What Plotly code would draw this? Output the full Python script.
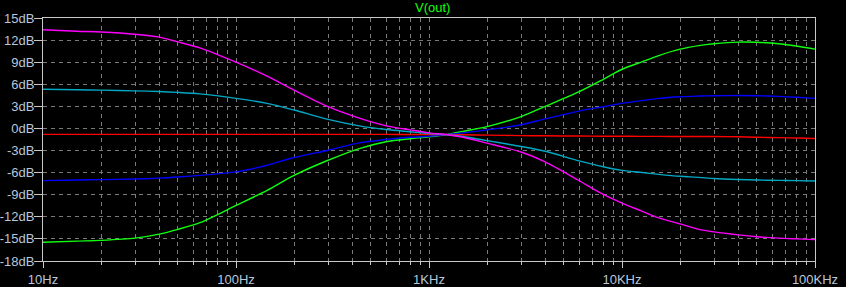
import plotly.graph_objects as go

freq = [10, 15, 20, 30, 40, 50, 65, 100, 145, 200, 300, 435, 600, 800, 1000, 1240,
        1500, 2000, 3000, 4000, 6000, 8000, 10000, 12400, 15500, 20000, 25000, 30000,
        40000, 50000, 65000, 80000, 100000]

magenta_db = [13.4, 13.2, 13.1, 12.8, 12.4, 11.75, 10.95, 9.0, 7.1, 5.2, 2.95, 1.4, 0.35, -0.2,
              -0.6, -0.85, -1.2, -2.0, -3.2, -4.55, -7.1, -8.96, -10.13, -11.13, -12.14, -12.95,
              -13.7, -14.05, -14.45, -14.7, -14.9, -15.0, -15.1]
cyan_db = [5.32, 5.25, 5.2, 5.1, 5.02, 4.9, 4.7, 4.09, 3.4, 2.5, 1.23, 0.35, -0.15, -0.45,
           -0.68, -0.85, -1.1, -1.65, -2.45, -3.1, -4.4, -5.2, -5.69, -5.95, -6.23, -6.5,
           -6.64, -6.8, -6.93, -7.0, -7.05, -7.09, -7.14]
red_db = [-0.8, -0.8, -0.8, -0.8, -0.8, -0.8, -0.8, -0.8, -0.8, -0.8, -0.8, -0.81, -0.81,
          -0.82, -0.82, -0.83, -0.86, -0.9, -0.97, -1.0, -1.03, -1.05, -1.06, -1.07, -1.08,
          -1.09, -1.09, -1.1, -1.12, -1.2, -1.25, -1.3, -1.36]
blue_db = [-7.09, -7.0, -6.95, -6.87, -6.75, -6.6, -6.37, -5.9, -5.0, -3.95, -2.96, -1.96, -1.5,
           -1.2, -1.05, -0.82, -0.6, -0.2, 0.5, 1.3, 2.36, 2.95, 3.41, 3.75, 4.09, 4.31,
           4.4, 4.45, 4.47, 4.45, 4.35, 4.23, 4.09]
green_db = [-15.45, -15.3, -15.2, -14.9, -14.35, -13.7, -12.8, -10.46, -8.4, -6.37, -4.32,
            -2.73, -1.8, -1.4, -1.14, -0.82, -0.4, 0.25, 1.6, 3.0, 5.0, 6.68, 8.04, 8.95,
            9.9, 10.77, 11.25, 11.5, 11.73, 11.7, 11.5, 11.2, 10.77]

x_tick_vals = [10, 100, 1000, 10000, 100000]
x_tick_text = ["10Hz", "100Hz", "1KHz", "10KHz", "100KHz"]
y_tick_vals = [15, 12, 9, 6, 3, 0, -3, -6, -9, -12, -15, -18]
y_tick_text = ["15dB", "12dB", "9dB", "6dB", "3dB", "0dB", "-3dB", "-6dB", "-9dB",
               "-12dB", "-15dB", "-18dB"]
minor_vals = [m * d for d in (10, 100, 1000, 10000) for m in range(2, 10)]

series = [
    ("green", green_db, "#10ff10"),
    ("blue", blue_db, "#0000ff"),
    ("red", red_db, "#ff0000"),
    ("cyan", cyan_db, "#00a8c4"),
    ("magenta", magenta_db, "#ff00ff"),
]

fig = go.Figure()
for name, vals, col in series:
    fig.add_trace(go.Scatter(x=freq, y=vals, mode="lines", name=name,
                             line=dict(color=col, width=1.4, shape="spline", smoothing=0.8)))

text_col = "#b8c8dc"
grid_col = "#7a7a7a"
axis_col = "#c8c8c8"

fig.update_layout(
    width=846, height=287,
    paper_bgcolor="black", plot_bgcolor="black",
    margin=dict(l=43, r=31, t=18, b=26),
    showlegend=False,
    font=dict(family="Liberation Sans, Arial, sans-serif", size=13, color=text_col),
    annotations=[dict(text="V(out)", x=0.5, xref="paper", xshift=3, y=1, yref="paper",
                      yshift=1, yanchor="bottom", showarrow=False,
                      font=dict(size=13, color="#10ff10"))],
)
fig.update_xaxes(
    type="log", range=[1, 5], automargin=False,
    tickvals=x_tick_vals, ticktext=x_tick_text,
    ticks="outside", ticklen=6, tickcolor=axis_col,
    showline=True, linecolor=axis_col, linewidth=1, mirror=True,
    showgrid=True, gridcolor=grid_col, griddash="4px,4px", gridwidth=1,
    minor=dict(tickvals=minor_vals, ticks="outside", ticklen=3, tickcolor=axis_col,
               showgrid=True, gridcolor=grid_col, griddash="4px,4px", gridwidth=1),
    zeroline=False, tickfont=dict(color=text_col, size=13),
)
fig.update_yaxes(
    range=[-18, 15], automargin=False,
    tickvals=y_tick_vals, ticktext=y_tick_text,
    ticks="outside", ticklen=8, tickcolor=axis_col, ticklabelstandoff=-3,
    showline=True, linecolor=axis_col, linewidth=1, mirror=True,
    showgrid=True, gridcolor=grid_col, griddash="4px,4px", gridwidth=1,
    zeroline=False, tickfont=dict(color=text_col, size=13),
)

fig.write_html("out.html")
